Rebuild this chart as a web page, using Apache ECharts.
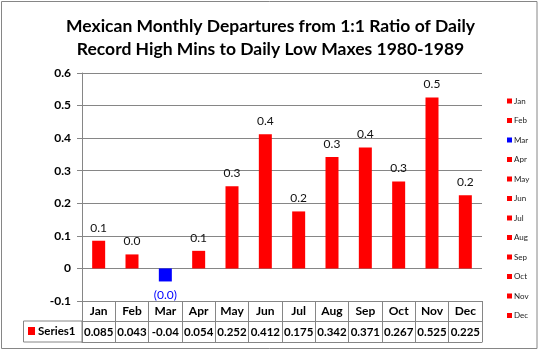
<!DOCTYPE html>
<html>
<head>
<meta charset="utf-8">
<script src="https://cdn.jsdelivr.net/npm/echarts@6/dist/echarts.min.js"></script>
<style>
  html, body { margin: 0; padding: 0; background: #fff; }
  #chart { width: 541px; height: 350px; }
</style>
</head>
<body>
<div id="chart"></div>
<script>
// --- data ---
const months = ['Jan', 'Feb', 'Mar', 'Apr', 'May', 'Jun', 'Jul', 'Aug', 'Sep', 'Oct', 'Nov', 'Dec']
const departures = [0.085, 0.043, -0.04, 0.054, 0.252, 0.412, 0.175, 0.342, 0.371, 0.267, 0.525, 0.225]
const seriesLabel = 'Series1'
const titleLines = [
  'Mexican Monthly Departures from 1:1 Ratio of Daily',
  'Record High Mins to Daily Low Maxes 1980-1989',
]

const FONT = 'Lato'
const GRID_GRAY = '#868686'
const RED = '#ff0000'
const BLUE = '#0000ff'

// 負值用藍色，其餘紅色
const colorOf = (v) => (v < 0 ? BLUE : RED)

// 資料標籤：一位小數，負數以括號表示
const labelText = (v) => (v < 0 ? '(' + Math.abs(v).toFixed(1) + ')' : v.toFixed(1))

const chart = echarts.init(document.getElementById('chart'))

// 每個月一個 series，讓圖例逐月顯示
const series = months.map((m, i) => {
  const v = departures[i]
  return {
    name: m,
    type: 'bar',
    xAxisIndex: 0,
    barWidth: 13,
    barGap: '-100%',
    data: departures.map((d, j) => (j === i ? d : null)),
    itemStyle: { color: colorOf(v) },
    label: {
      show: true,
      position: v < 0 ? 'bottom' : 'top',
      distance: v < 0 ? 8 : 7,
      formatter: (p) => labelText(p.value),
      fontFamily: FONT,
      fontSize: 12,
      color: v < 0 ? BLUE : '#111',
    },
    emphasis: { disabled: true },
  }
})

const option = {
  animation: false,
  title: {
    text: titleLines.join('\n'),
    left: 'center',
    top: 10,
    textStyle: { fontFamily: FONT, fontSize: 17.5, fontWeight: 'bold', color: '#000', lineHeight: 23 },
  },
  legend: {
    orient: 'vertical',
    left: 502,
    top: 91,
    icon: 'rect',
    itemWidth: 5,
    itemHeight: 5,
    itemGap: 9.5,
    selectedMode: false,
    data: months,
    textStyle: { fontFamily: FONT, fontSize: 8, color: '#222', lineHeight: 10, padding: [0, 0, 0, -3] },
  },
  grid: { left: 82, right: 59, top: 73, bottom: 49 },
  xAxis: [
    {
      type: 'category',
      data: months,
      position: 'bottom',
      axisLine: { onZero: false, lineStyle: { color: GRID_GRAY } },
      axisTick: { show: true, length: 41, lineStyle: { color: GRID_GRAY } },
      axisLabel: { interval: 0, fontFamily: FONT, fontSize: 12, fontWeight: 'bold', color: '#000', margin: 4 },
    },
    {
      type: 'category',
      data: departures.map((v) => String(v)),
      position: 'bottom',
      offset: 20.5,
      axisLine: { onZero: false, lineStyle: { color: GRID_GRAY } },
      axisTick: { show: false },
      axisLabel: { interval: 0, hideOverlap: false, fontFamily: FONT, fontSize: 11.5, fontWeight: 'bold', color: '#000', margin: 5 },
    },
    {
      type: 'category',
      data: months,
      position: 'bottom',
      offset: 41.5,
      axisLine: { onZero: false, lineStyle: { color: GRID_GRAY } },
      axisTick: { show: false },
      axisLabel: { show: false },
    },
  ],
  yAxis: {
    type: 'value',
    min: -0.1,
    max: 0.6,
    interval: 0.1,
    axisLine: { show: true, lineStyle: { color: GRID_GRAY } },
    axisTick: { show: true, length: 5, lineStyle: { color: GRID_GRAY } },
    splitLine: { lineStyle: { color: GRID_GRAY } },
    axisLabel: {
      fontFamily: FONT,
      fontSize: 12,
      fontWeight: 'bold',
      color: '#000',
      margin: 11,
      formatter: (v) => (Math.abs(v) < 1e-9 ? '0' : v.toFixed(1)),
    },
  },
  // 外框與資料表左側的圖例格
  graphic: [
    {
      type: 'rect',
      shape: { x: 1.5, y: 1.5, width: 535.5, height: 347 },
      style: { fill: null, stroke: GRID_GRAY, lineWidth: 1 },
      silent: true,
    },
    {
      type: 'rect',
      shape: { x: 23.5, y: 321, width: 58.5, height: 21 },
      style: { fill: null, stroke: GRID_GRAY, lineWidth: 1 },
      silent: true,
    },
    {
      type: 'rect',
      shape: { x: 28, y: 327, width: 7, height: 8 },
      style: { fill: RED },
      silent: true,
    },
    {
      type: 'text',
      x: 38,
      y: 331.5,
      style: {
        text: seriesLabel,
        fontFamily: FONT,
        fontSize: 11.5,
        fontWeight: 'bold',
        fill: '#000',
        verticalAlign: 'middle',
      },
      silent: true,
    },
  ],
  series: series,
}

chart.setOption(option)
</script>
</body>
</html>
